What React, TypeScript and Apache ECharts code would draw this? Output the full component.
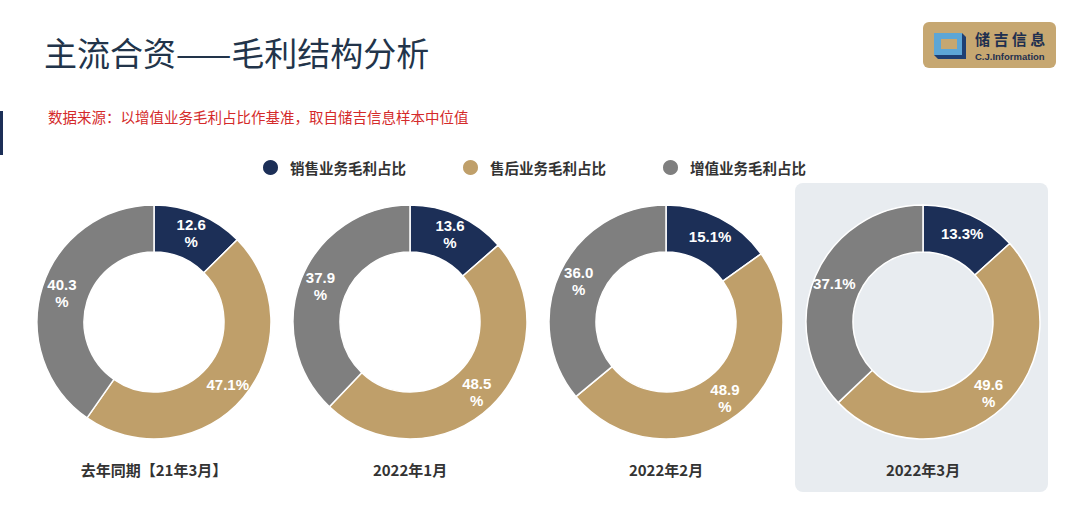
import React, { useEffect, useRef } from "react";
import * as echarts from "echarts";

const categories = ["销售业务毛利占比", "售后业务毛利占比", "增值业务毛利占比"];
const periods = ["去年同期【21年3月】", "2022年1月", "2022年2月", "2022年3月"];
const salesShare = [12.6, 13.6, 15.1, 13.3];
const afterSalesShare = [47.1, 48.5, 48.9, 49.6];
const valueAddedShare = [40.3, 37.9, 36.0, 37.1];
// whether the "%" of a label sits on its own line, as in the source slide
const wrapSales = [true, true, false, false];
const wrapAfter = [false, true, true, true];
const wrapValue = [true, true, true, false];

const colors = ["#1c2f57", "#bf9f6a", "#7f7f7f"];
const CJK = "'Noto Sans CJK SC', 'Liberation Sans', sans-serif";
const NUM = "'Liberation Sans', Arial, 'Noto Sans CJK SC', sans-serif";

const centersX = [154, 410, 666, 923];
const centerY = 322;

export default function App() {
  const ref = useRef<HTMLDivElement>(null);
  useEffect(() => {
    if (!ref.current) return;
    const chart = echarts.init(ref.current, null, { renderer: "svg" });

    const series = periods.map((p, i) => ({
      type: "pie",
      name: p,
      center: [centersX[i], centerY],
      radius: [70, 117],
      startAngle: 90,
      clockwise: true,
      avoidLabelOverlap: false,
      itemStyle: { borderColor: "#ffffff", borderWidth: 1.5 },
      label: {
        show: true,
        position: "inside",
        color: "#ffffff",
        fontSize: 15,
        fontWeight: "bold",
        fontFamily: NUM,
        lineHeight: 17,
        formatter: (params: any) => {
          const v = Number(params.value).toFixed(1);
          return params.data.wrap ? v + "\n%" : v + "%";
        },
      },
      labelLine: { show: false },
      emphasis: { disabled: true },
      data: [
        { name: categories[0], value: salesShare[i], wrap: wrapSales[i] },
        { name: categories[1], value: afterSalesShare[i], wrap: wrapAfter[i] },
        { name: categories[2], value: valueAddedShare[i], wrap: wrapValue[i] },
      ],
    }));

    const graphic: any[] = [
      {
        type: "rect",
        shape: { x: 795, y: 183, width: 253, height: 309, r: 8 },
        style: { fill: "#e8ecf0" },
        z: -10,
      },
      {
        type: "rect",
        shape: { x: 0, y: 111, width: 3, height: 44 },
        style: { fill: "#1c2f57" },
      },
      {
        type: "text",
        x: 44,
        y: 52,
        style: {
          text: "主流合资——毛利结构分析",
          fill: "#22344a",
          fontSize: 33,
          fontFamily: CJK,
          textVerticalAlign: "middle",
        },
      },
      {
        type: "text",
        x: 48,
        y: 116,
        style: {
          text: "数据来源：以增值业务毛利占比作基准，取自储吉信息样本中位值",
          fill: "#d42a2a",
          fontSize: 14.5,
          fontFamily: CJK,
          textVerticalAlign: "middle",
        },
      },
      // logo
      {
        type: "rect",
        shape: { x: 923, y: 22, width: 133, height: 46, r: 6 },
        style: { fill: "#c6a771" },
      },
      {
        type: "polygon",
        shape: { points: [[934, 33], [962, 33], [966, 37], [966, 59], [938, 59], [934, 55]] },
        style: { fill: "#1e3f73" },
      },
      {
        type: "rect",
        shape: { x: 934, y: 33, width: 28, height: 22 },
        style: { fill: "#5da6d6" },
      },
      {
        type: "rect",
        shape: { x: 941, y: 39, width: 16, height: 10 },
        style: { fill: "#c6a771" },
      },
      {
        type: "text",
        x: 975,
        y: 38,
        style: {
          text: "储 吉 信 息",
          fill: "#1e2f4f",
          fontSize: 15,
          fontWeight: "bold",
          fontFamily: CJK,
          textVerticalAlign: "middle",
        },
      },
      {
        type: "text",
        x: 975,
        y: 56,
        style: {
          text: "C.J.Information",
          fill: "#1e2f4f",
          fontSize: 9.5,
          fontWeight: "bold",
          fontFamily: NUM,
          textVerticalAlign: "middle",
        },
      },
    ];

    periods.forEach((p, i) => {
      graphic.push({
        type: "text",
        x: centersX[i],
        y: 469,
        style: {
          text: p,
          fill: "#333333",
          fontSize: 15,
          fontWeight: "bold",
          fontFamily: CJK,
          textAlign: "center",
          textVerticalAlign: "middle",
        },
      });
    });

    chart.setOption({
      animation: false,
      backgroundColor: "#ffffff",
      color: colors,
      legend: {
        data: categories,
        left: 256,
        top: 153,
        icon: "circle",
        itemWidth: 17,
        itemHeight: 17,
        itemGap: 55,
        selectedMode: false,
        textStyle: {
          fontSize: 14.5,
          fontWeight: "bold",
          color: "#333333",
          fontFamily: CJK,
          padding: [0, 0, 0, 6],
        },
      },
      graphic,
      series,
    });

    return () => chart.dispose();
  }, []);

  return (
    <div
      ref={ref}
      style={{ position: "fixed", left: 0, top: 0, width: 1080, height: 509 }}
    />
  );
}
